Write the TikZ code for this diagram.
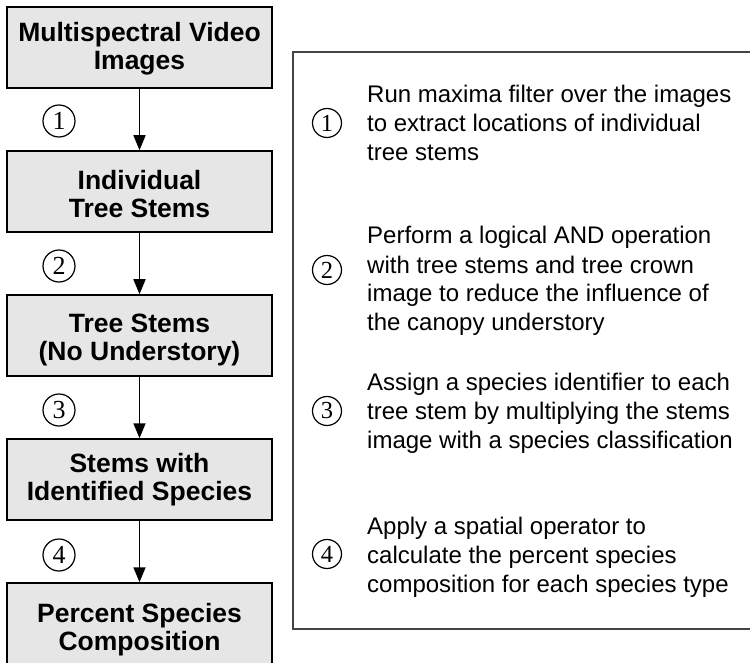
\documentclass[tikz,border=0pt]{standalone}
\usepackage{fontspec}
\setmainfont{Liberation Sans}
\newfontfamily\numfont{Liberation Serif}
\usetikzlibrary{arrows.meta,calc}

\definecolor{boxfill}{RGB}{230,230,230}
\definecolor{framegray}{RGB}{68,68,68}

\tikzset{
  stage/.style={draw=black, line width=1.5pt, fill=boxfill,
    minimum width=265pt, minimum height=81pt, inner sep=0pt},
  stagetext/.style={inner sep=0pt, anchor=base,
    font=\fontsize{26.5}{28.5}\selectfont\bfseries},
  flow/.style={line width=1.5pt, -{Triangle[width=12pt,length=15pt]}},
  stepnum/.style={circle, draw=black, line width=1.2pt, inner sep=0pt},
  stepbig/.style={stepnum, minimum size=32pt, font=\numfont\fontsize{26}{26}\selectfont},
  stepsmall/.style={stepnum, minimum size=29pt, font=\numfont\fontsize{24.5}{24.5}\selectfont},
  note/.style={inner sep=0pt, anchor=base west,
    font=\fontsize{24}{29}\selectfont},
  legendframe/.style={draw=framegray, line width=1.5pt}
}

% multi-line text whose baseline is that of its first line
\newcommand{\linesc}[1]{\begin{tabular}[t]{@{}c@{}}#1\end{tabular}}
\newcommand{\linesl}[1]{\begin{tabular}[t]{@{}l@{}}#1\end{tabular}}

\begin{document}
\begin{tikzpicture}[x=1pt, y=-1pt]
  \useasboundingbox (0,0) rectangle (750,663);
  \clip (0,0) rectangle (750,663);

  % processing chain
  \node[stage] (b1) at (139.5,47.5) {};
  \node[stage] (b2) at (139.5,191.5) {};
  \node[stage] (b3) at (139.5,335.5) {};
  \node[stage] (b4) at (139.5,479.5) {};
  \node[stage, minimum height=85pt] (b5) at (139.5,625.5) {};

  \node[stagetext] (t1) at ($(b1.north)+(0,35)$) {\linesc{Multispectral Video\\Images}};
  \node[stagetext] (t2) at ($(b2.north)+(0,39)$) {\linesc{Individual\\Tree Stems}};
  \node[stagetext] (t3) at ($(b3.north)+(0,38)$) {\linesc{Tree Stems\\(No Understory)}};
  \node[stagetext] (t4) at ($(b4.north)+(0,34)$) {\linesc{Stems with\\Identified Species}};
  \node[stagetext] (t5) at ($(b5.north)+(0,40)$) {\linesc{Percent Species\\Composition}};

  \draw[flow] (b1.south) -- (b2.north);
  \draw[flow] (b2.south) -- (b3.north);
  \draw[flow] (b3.south) -- (b4.north);
  \draw[flow] (b4.south) -- (b5.north);

  % step numbers beside the arrows
  \node[stepbig] (n1) at (59,121) {1};
  \node[stepbig] (n2) at (59,266) {2};
  \node[stepbig] (n3) at (59,410) {3};
  \node[stepbig] (n4) at (59,555) {4};

  % legend of the steps
  \draw[legendframe] (293,52) rectangle (770,629);

  \node[stepsmall] (m1) at (327,123) {1};
  \node[stepsmall] (m2) at (327,270) {2};
  \node[stepsmall] (m3) at (327,411) {3};
  \node[stepsmall] (m4) at (327,554) {4};

  \node[note] (d1) at (367,103) {\linesl{Run maxima filter over the images\\to extract locations of individual\\tree stems}};
  \node[note] (d2) at (367,244) {\linesl{Perform a logical AND operation\\with tree stems and tree crown\\image to reduce the influence of\\the canopy understory}};
  \node[note] (d3) at (367,390) {\linesl{Assign a species identifier to each\\tree stem by multiplying the stems\\image with a species classification}};
  \node[note] (d4) at (367,534) {\linesl{Apply a spatial operator to\\calculate the percent species\\composition for each species type}};
\end{tikzpicture}
\end{document}
